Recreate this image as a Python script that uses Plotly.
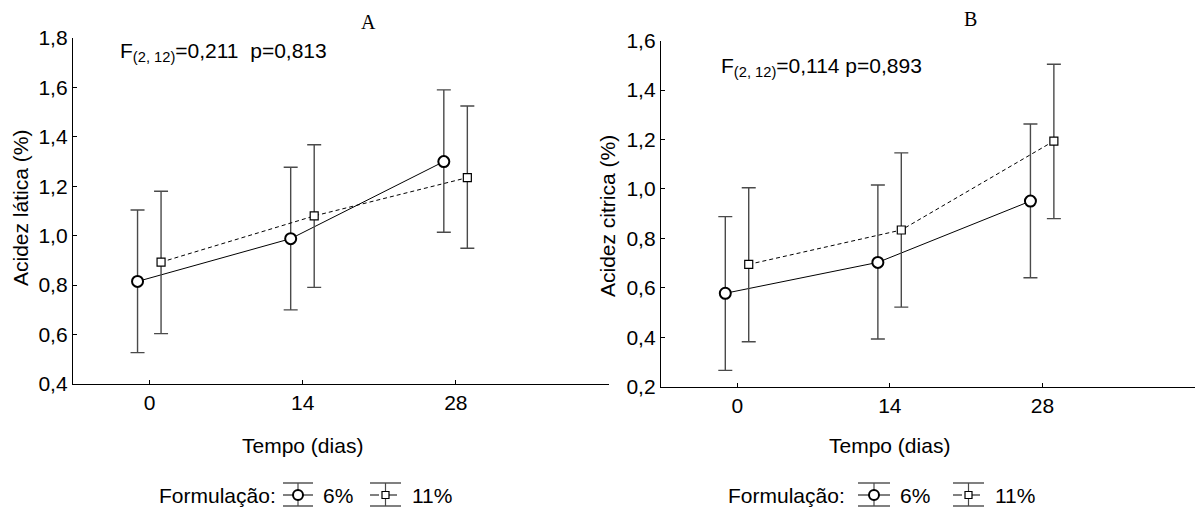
import plotly.graph_objects as go

# ---------------- data ----------------
days = [0, 14, 28]
tick_days = [0, 14, 28]

# Panel A: Acidez lática (%)
a_6_mean = [0.815, 0.988, 1.300]
a_6_upper = [1.104, 1.277, 1.590]
a_6_lower = [0.527, 0.700, 1.014]
a_11_mean = [0.893, 1.080, 1.235]
a_11_upper = [1.180, 1.368, 1.525]
a_11_lower = [0.604, 0.791, 0.949]

# Panel B: Acidez citrica (%)
b_6_mean = [0.578, 0.703, 0.951]
b_6_upper = [0.888, 1.016, 1.263]
b_6_lower = [0.266, 0.393, 0.641]
b_11_mean = [0.695, 0.834, 1.194]
b_11_upper = [1.005, 1.146, 1.505]
b_11_lower = [0.382, 0.522, 0.880]

series_names = ["6%", "11%"]
panel_titles = ["A", "B"]
y_titles = ["Acidez lática (%)", "Acidez citrica (%)"]
x_title = "Tempo (dias)"
stats_text = ["F<sub>(2, 12)</sub>=0,211&nbsp;&nbsp;p=0,813", "F<sub>(2, 12)</sub>=0,114 p=0,893"]
legend_label = "Formulação:"

W, H = 1195, 511
FONT = "Liberation Sans, Arial, sans-serif"
FS = 21
EB_COLOR = "#4a4a4a"


def px(x):
    return x / W


def py(y):
    return (H - y) / H


fig = go.Figure()


def add_series(mean, upper, lower, offset, dash, symbol, size, mlw, xa, ya):
    xs = [d + offset for d in days]
    fig.add_trace(go.Scatter(
        x=xs, y=mean, xaxis=xa, yaxis=ya, mode="lines+markers",
        line=dict(color="black", width=1, dash=dash),
        marker=dict(symbol=symbol, size=size, color="white",
                    line=dict(color="black", width=mlw)),
        error_y=dict(type="data", symmetric=False,
                     array=[u - m for u, m in zip(upper, mean)],
                     arrayminus=[m - l for m, l in zip(mean, lower)],
                     color=EB_COLOR, thickness=1.4, width=7),
        showlegend=False, cliponaxis=False,
    ))


add_series(a_6_mean, a_6_upper, a_6_lower, -1.1, "solid", "circle", 11, 2, "x", "y")
add_series(a_11_mean, a_11_upper, a_11_lower, 1.05, "4px,3px", "square", 8, 1.2, "x", "y")
add_series(b_6_mean, b_6_upper, b_6_lower, -1.1, "solid", "circle", 11, 2, "x2", "y2")
add_series(b_11_mean, b_11_upper, b_11_lower, 1.05, "4px,3px", "square", 8, 1.2, "x2", "y2")

axis_common = dict(showgrid=False, zeroline=False, showline=True, linecolor="black",
                   linewidth=1.3, ticks="inside", ticklen=4, tickcolor="black",
                   automargin=False,
                   tickfont=dict(family=FONT, size=FS, color="black"))

fig.update_layout(
    template="none",
    width=W, height=H, margin=dict(l=0, r=0, t=0, b=0, pad=0),
    paper_bgcolor="white", plot_bgcolor="white", separators=",.",
    showlegend=False,
    xaxis=dict(domain=[px(73), px(609)], range=[-7, 42], tickvals=tick_days,
               anchor="y", **axis_common),
    yaxis=dict(domain=[py(384), py(38)], range=[0.4, 1.8], dtick=0.2,
               tickformat=".1f", anchor="x", **axis_common),
    xaxis2=dict(domain=[px(661), 1.0], range=[-7, 42], tickvals=tick_days,
                anchor="y2", **axis_common),
    yaxis2=dict(domain=[py(386.7), py(40.7)], range=[0.2, 1.6], dtick=0.2,
                tickformat=".1f", anchor="x2", **axis_common),
)

ann = []
serif = dict(family="Liberation Serif, Times New Roman, serif", size=20, color="black")
sans = dict(family=FONT, size=FS, color="black")
# panel titles
ann.append(dict(text=panel_titles[0], x=px(368), y=py(22), xref="paper", yref="paper",
                xanchor="center", yanchor="middle", showarrow=False, font=serif))
ann.append(dict(text=panel_titles[1], x=px(970), y=py(19), xref="paper", yref="paper",
                xanchor="center", yanchor="middle", showarrow=False, font=serif))
# y titles
ann.append(dict(text=y_titles[0], x=px(20), y=py(208), xref="paper", yref="paper", textangle=-90,
                xanchor="center", yanchor="middle", showarrow=False, font=sans))
ann.append(dict(text=y_titles[1], x=px(607), y=py(216), xref="paper", yref="paper", textangle=-90,
                xanchor="center", yanchor="middle", showarrow=False, font=sans))
# x titles
ann.append(dict(text=x_title, x=14, xref="x", y=py(445), yref="paper",
                xanchor="center", yanchor="middle", showarrow=False, font=sans))
ann.append(dict(text=x_title, x=14, xref="x2", y=py(445), yref="paper",
                xanchor="center", yanchor="middle", showarrow=False, font=sans))
# stats
ann.append(dict(text=stats_text[0], x=px(118), y=py(52), xref="paper", yref="paper",
                xanchor="left", yanchor="middle", showarrow=False, font=sans))
ann.append(dict(text=stats_text[1], x=px(719), y=py(67), xref="paper", yref="paper",
                xanchor="left", yanchor="middle", showarrow=False, font=sans))

shapes = []


def legend_block(x_label, sym1, sym2, t1, t2):
    ann.append(dict(text=legend_label, x=px(x_label), y=py(495), xref="paper", yref="paper",
                    xanchor="left", yanchor="middle", showarrow=False, font=sans))
    for (x0, x1), txt_x, txt, dash, kind in [(sym1, t1, series_names[0], "solid", "circle"),
                                             (sym2, t2, series_names[1], "dash", "rect")]:
        xc = (x0 + x1) / 2
        shapes.append(dict(type="line", xref="paper", yref="paper", x0=px(x0), x1=px(x1),
                           y0=py(495), y1=py(495), line=dict(color="black", width=1, dash=dash)))
        for yy in (483, 506):
            shapes.append(dict(type="line", xref="paper", yref="paper", x0=px(x0), x1=px(x1),
                               y0=py(yy), y1=py(yy), line=dict(color=EB_COLOR, width=1.4)))
        shapes.append(dict(type="line", xref="paper", yref="paper", x0=px(xc), x1=px(xc),
                           y0=py(483), y1=py(506), line=dict(color=EB_COLOR, width=1.2)))
        if kind == "circle":
            r = 5
            shapes.append(dict(type="circle", xref="paper", yref="paper", x0=px(xc - r), x1=px(xc + r),
                               y0=py(495 + r), y1=py(495 - r), fillcolor="white",
                               line=dict(color="black", width=2)))
        else:
            r = 3.5
            shapes.append(dict(type="rect", xref="paper", yref="paper", x0=px(xc - r), x1=px(xc + r),
                               y0=py(495 + r), y1=py(495 - r), fillcolor="white",
                               line=dict(color="black", width=1.2)))
        ann.append(dict(text=txt, x=px(txt_x), y=py(495), xref="paper", yref="paper",
                        xanchor="left", yanchor="middle", showarrow=False, font=sans))


legend_block(157, (283, 313), (370, 401), 321, 410)
legend_block(726, (858, 890), (953, 984), 898, 993)

fig.update_layout(annotations=ann, shapes=shapes)
fig.write_html(
    "out.html",
    config={"displayModeBar": False},
    post_script="document.body.style.margin='0';document.body.style.padding='0';document.body.style.overflow='hidden';",
)
